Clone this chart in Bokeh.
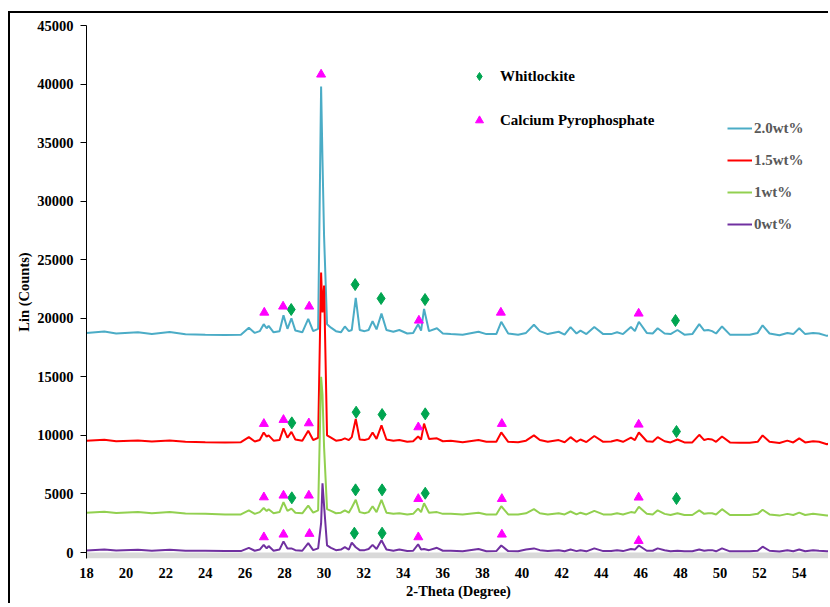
from bokeh.plotting import figure
from bokeh.models import Range1d, FixedTicker, BoxAnnotation, Legend, LegendItem
from bokeh.embed import file_html
from bokeh.resources import INLINE

# ---------------- data ----------------
two_theta = [18.0, 18.9, 19.5, 20.6, 21.3, 22.2, 23.0, 24.0, 25.0, 25.8,
             26.2, 26.5, 26.75, 26.95, 27.1, 27.2, 27.45, 27.75, 27.95, 28.15,
             28.35, 28.55, 28.9, 29.2, 29.45, 29.7, 29.85, 29.92, 30.0, 30.15,
             30.35, 30.6, 30.85, 31.05, 31.25, 31.4, 31.6, 31.8, 32.05, 32.25,
             32.45, 32.65, 32.9, 33.15, 33.5, 33.8, 34.2, 34.5, 34.75, 34.9,
             35.05, 35.3, 35.7, 36.0, 36.4, 37.0, 37.8, 38.2, 38.7, 38.95,
             39.3, 39.8, 40.2, 40.6, 40.9, 41.3, 41.85, 42.15, 42.45, 42.75,
             42.95, 43.25, 43.65, 44.1, 44.5, 44.8, 45.1, 45.5, 45.7, 45.9,
             46.3, 46.6, 46.85, 47.2, 47.5, 47.85, 48.2, 48.6, 48.95, 49.2,
             49.4, 49.6, 49.8, 50.1, 50.5, 51.0, 51.5, 51.9, 52.15, 52.5,
             53.0, 53.4, 53.7, 54.0, 54.3, 54.7, 55.0, 55.4, 55.6]

counts_2_0 = [18750, 18870, 18700, 18800, 18650, 18820, 18640, 18600, 18580, 18600,
              19200, 18750, 18900, 19500, 19150, 19350, 18800, 18900, 20250, 19100,
              20000, 18950, 18800, 19950, 18900, 19100, 39800, 33500, 27000, 19500,
              19200, 18900, 18800, 19300, 18900, 19000, 21750, 19000, 18900, 19000,
              19750, 19050, 20400, 19000, 18850, 19000, 18700, 18750, 19500, 18950,
              20800, 18900, 19150, 18700, 18650, 18600, 18850, 18650, 18650, 19700,
              18700, 18600, 18750, 19450, 18900, 18650, 18850, 18600, 19250, 18700,
              18950, 18650, 19250, 18650, 18650, 18800, 18650, 19250, 18900, 19700,
              18750, 18700, 19150, 18700, 18650, 19000, 18600, 18650, 19500, 18950,
              19000, 18900, 18700, 19300, 18600, 18600, 18600, 18750, 19400, 18700,
              18550, 18750, 18650, 19150, 18650, 18750, 18700, 18500, 18600]

counts_1_5 = [9550, 9620, 9500, 9560, 9480, 9560, 9450, 9420, 9400, 9420,
              9850, 9480, 9600, 10250, 9900, 10000, 9550, 9600, 10600, 9800,
              10300, 9650, 9550, 10400, 9600, 9800, 23900, 20500, 22800, 10000,
              9800, 9550, 9600, 9750, 9600, 9850, 11400, 9650, 9600, 9700,
              10250, 9700, 10850, 9650, 9550, 9600, 9450, 9500, 9900, 9650,
              11000, 9700, 9750, 9500, 9550, 9420, 9600, 9450, 9450, 10250,
              9450, 9420, 9550, 10000, 9600, 9450, 9600, 9420, 9850, 9450,
              9650, 9430, 9950, 9450, 9480, 9600, 9450, 9800, 9600, 10250,
              9500, 9450, 9850, 9500, 9400, 9650, 9400, 9400, 10050, 9600,
              9700, 9650, 9450, 9900, 9400, 9380, 9380, 9450, 10000, 9450,
              9350, 9550, 9400, 9750, 9400, 9500, 9450, 9250, 9350]

counts_1_0 = [3400, 3480, 3380, 3450, 3350, 3450, 3330, 3300, 3250, 3250,
              3600, 3300, 3450, 3800, 3550, 3700, 3350, 3450, 4300, 3550,
              3750, 3400, 3350, 4000, 3400, 3600, 15000, 13500, 9000, 3700,
              3550, 3350, 3400, 3600, 3400, 3850, 4500, 3450, 3350, 3450,
              3950, 3450, 4500, 3400, 3300, 3350, 3250, 3300, 3750, 3450,
              4200, 3400, 3450, 3300, 3300, 3250, 3400, 3250, 3250, 3950,
              3250, 3250, 3350, 3700, 3350, 3250, 3350, 3250, 3500, 3250,
              3400, 3250, 3550, 3250, 3250, 3350, 3250, 3450, 3400, 3900,
              3300, 3250, 3600, 3300, 3200, 3350, 3200, 3200, 3600, 3300,
              3350, 3350, 3250, 3700, 3200, 3200, 3200, 3300, 3650, 3250,
              3150, 3300, 3200, 3400, 3200, 3300, 3250, 3150, 3200]

counts_0 = [180, 260, 170, 240, 150, 240, 140, 150, 120, 120,
            400, 150, 250, 650, 350, 550, 150, 250, 950, 350,
            350, 200, 150, 800, 200, 350, 2500, 5900, 4000, 600,
            400, 200, 250, 450, 250, 850, 450, 200, 200, 300,
            650, 300, 1050, 250, 150, 250, 120, 150, 700, 250,
            300, 200, 400, 150, 150, 100, 300, 100, 120, 600,
            120, 100, 250, 350, 200, 120, 200, 100, 250, 120,
            200, 100, 350, 120, 120, 200, 120, 300, 250, 600,
            150, 150, 350, 200, 100, 150, 100, 100, 250, 150,
            200, 200, 100, 350, 100, 100, 100, 150, 500, 150,
            80, 200, 100, 250, 100, 200, 150, 100, 150]

series_labels = ["2.0wt%", "1.5wt%", "1wt%", "0wt%"]
series_colors = ["#4BACC6", "#FF0000", "#92D050", "#7030A0"]

# phase markers: Whitlockite (diamonds)
whit_theta = [28.34, 31.57, 32.88, 35.10, 47.75,
              28.37, 31.62, 32.93, 35.11, 47.80,
              28.37, 31.59, 32.93, 35.11, 47.80,
              31.53, 32.93]
whit_counts = [20750, 22880, 21690, 21600, 19810,
               11070, 11980, 11780, 11840, 10330,
               4670, 5350, 5350, 5060, 4610,
               1650, 1650]

# phase markers: Calcium Pyrophosphate (triangles)
cpp_theta = [26.98, 27.93, 29.25, 29.85, 34.79, 38.93, 45.89,
             26.96, 27.95, 29.23, 34.76, 38.98, 45.89,
             26.96, 27.95, 29.23, 34.76, 38.98, 45.89,
             26.96, 27.95, 29.26, 34.76, 38.98, 45.89]
cpp_counts = [20490, 21010, 21010, 40820, 19810, 20490, 20410,
              10990, 11330, 11040, 10700, 10990, 10930,
              4720, 4870, 4870, 4580, 4580, 4700,
              1310, 1540, 1600, 1310, 1540, 1000]

x_ticks = [18, 20, 22, 24, 26, 28, 30, 32, 34, 36, 38, 40, 42, 44, 46, 48, 50, 52, 54]
y_ticks = [0, 5000, 10000, 15000, 20000, 25000, 30000, 35000, 40000, 45000]

x_label = "2-Theta (Degree)"
y_label = "Lin (Counts)"

# ---------------- figure ----------------
FONT = "Liberation Serif"

p = figure(width=820, height=592, output_backend="svg", toolbar_location=None,
           x_range=Range1d(18, 55.58), y_range=Range1d(-512, 45000),
           min_border_left=76, min_border_right=0, min_border_top=12,
           min_border_bottom=47)
p.styles = {"border-top": "2px solid black", "border-left": "2px solid black",
            "margin-top": "11px", "margin-left": "8px"}
p.outline_line_color = None
p.xgrid.visible = False
p.ygrid.visible = False
p.background_fill_color = "white"
p.border_fill_color = "white"

# gray floor band under the zero line
p.add_layout(BoxAnnotation(top=0, fill_color="#D9D9D9", fill_alpha=1.0,
                           line_alpha=0, level="underlay"))

# axes
p.xaxis.ticker = FixedTicker(ticks=x_ticks)
p.yaxis.ticker = FixedTicker(ticks=y_ticks)
for ax in (p.xaxis[0], p.yaxis[0]):
    ax.major_label_text_font = FONT
    ax.major_label_text_font_style = "bold"
    ax.major_label_text_font_size = "14.5px"
    ax.major_label_text_color = "black"
    ax.axis_label_text_font = FONT
    ax.axis_label_text_font_style = "bold"
    ax.axis_label_text_font_size = "14.5px"
    ax.axis_label_text_color = "black"
    ax.minor_tick_line_color = None

p.xaxis.axis_label = x_label
p.xaxis.axis_line_color = None
p.xaxis.major_tick_line_color = None
p.xaxis.major_tick_out = 0
p.xaxis.major_tick_in = 0
p.xaxis.major_label_standoff = 9
p.xaxis.axis_label_standoff = 2

p.yaxis.axis_label = y_label
p.yaxis.axis_line_color = "black"
p.yaxis.axis_line_width = 1
p.yaxis.major_tick_line_color = "black"
p.yaxis.major_tick_out = 6
p.yaxis.major_tick_in = 0
p.yaxis.major_label_standoff = 7
p.yaxis.axis_label_standoff = 2

# series lines (drawn 2.0 first so later series sit on top)
line_renderers = []
for ys, color in zip([counts_2_0, counts_1_5, counts_1_0, counts_0], series_colors):
    r = p.line(two_theta, ys, line_color=color, line_width=2)
    line_renderers.append(r)

# phase markers
r_whit = p.scatter(whit_theta, whit_counts, marker="diamond", size=12,
                   fill_color="#00A550", line_color="#00A550")
r_cpp = p.scatter(cpp_theta, cpp_counts, marker="triangle", size=9,
                  fill_color="#FF00FF", line_color="#FF00FF")

# legends
leg_markers = Legend(items=[LegendItem(label="Whitlockite", renderers=[r_whit]),
                            LegendItem(label="Calcium Pyrophosphate", renderers=[r_cpp])],
                     location=(383, 428), orientation="vertical",
                     glyph_width=20, glyph_height=20, label_height=20,
                     label_standoff=11, spacing=24, padding=0, margin=0,
                     border_line_color=None, background_fill_alpha=0,
                     label_text_font=FONT, label_text_font_style="bold",
                     label_text_font_size="15px", label_text_color="black")
p.add_layout(leg_markers)

leg_series = Legend(items=[LegendItem(label=lab, renderers=[r])
                           for lab, r in zip(series_labels, line_renderers)],
                    location=(641, 324), orientation="vertical",
                    glyph_width=25, glyph_height=20, label_height=20,
                    label_standoff=2, spacing=12, padding=0, margin=0,
                    border_line_color=None, background_fill_alpha=0,
                    label_text_font=FONT, label_text_font_style="bold",
                    label_text_font_size="15px", label_text_color="#595959")
p.add_layout(leg_series)

open("out.html", "w").write(file_html(p, INLINE))
